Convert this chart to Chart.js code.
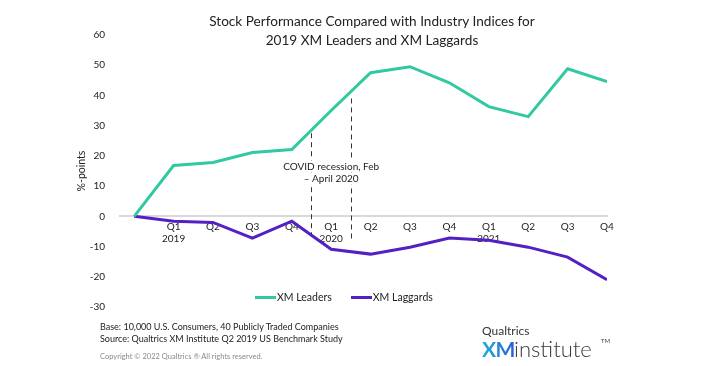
<!DOCTYPE html>
<html>
<head>
<meta charset="utf-8">
<script src="https://cdn.jsdelivr.net/npm/chart.js@4/dist/chart.umd.min.js"></script>
<style>
  html,body{margin:0;padding:0;background:#fff;}
  body{width:720px;height:366px;position:relative;overflow:hidden;font-family:Lato,"Open Sans",sans-serif;}
  #wrap{position:absolute;left:0;top:0;width:720px;height:366px;}
  .t{position:absolute;white-space:nowrap;color:#222;}
  #title{left:372px;top:12px;transform:translateX(-50%);text-align:center;font-size:13.6px;line-height:19px;color:#222;}
  #legend{position:absolute;top:291px;left:255px;font-size:10.5px;color:#222;display:flex;align-items:center;}
  #legend .item{display:flex;align-items:center;margin-right:19px;}
  #legend .sw{width:21px;height:3px;margin-right:1px;}
  #foot1{left:100px;top:321px;font-size:9px;line-height:12px;}
  #copy{left:100px;top:352px;font-size:7.5px;color:#8a8a8a;}
  #q{left:482px;top:323px;font-size:12px;color:#333;}
  #xm{left:482px;top:336px;font-size:21px;font-weight:700;letter-spacing:-0.5px;background:linear-gradient(90deg,#1fb0d8,#2a5bd7);-webkit-background-clip:text;background-clip:text;color:transparent;}
  #inst{left:514px;top:335px;font-size:22px;font-weight:300;color:#3a3a3a;}
  #tm{left:601px;top:337px;font-size:6px;color:#444;}
</style>
</head>
<body>
<div id="wrap"><canvas id="c" width="720" height="366"></canvas></div>
<div id="title" class="t">Stock Performance Compared with Industry Indices for<br>2019 XM Leaders and XM Laggards</div>
<div id="legend"></div>
<div id="foot1" class="t">Base: 10,000 U.S. Consumers, 40 Publicly Traded Companies<br>Source: Qualtrics XM Institute Q2 2019 US Benchmark Study</div>
<div id="copy" class="t">Copyright © 2022 Qualtrics ® All rights reserved.</div>
<div id="q" class="t">Qualtrics</div>
<div id="xm" class="t">XM</div>
<div id="inst" class="t">institute</div>
<div id="tm" class="t">TM</div>
<script>
// ---- data ----
const quarterLabels = ['', ['Q1','2019'], 'Q2', 'Q3', 'Q4', ['Q1','2020'], 'Q2', 'Q3', 'Q4', ['Q1','2021'], 'Q2', 'Q3', 'Q4'];
const seriesNames = ['XM Leaders', 'XM Laggards'];
const leaders  = [0, 16.8, 17.8, 21.1, 22.1, 35, 47.5, 49.5, 44.2, 36.3, 33, 48.8, 44.6];
const laggards = [0, -1.6, -2.0, -7.2, -1.6, -10.9, -12.5, -10.2, -7.2, -7.9, -10.2, -13.5, -21];
const yTicks = [60, 50, 40, 30, 20, 10, 0, -10, -20, -30];
const covidLineX = [4.5, 5.5];
const covidLineTop = [27.5, 39];
const covidLineBottom = [-6, -8];
const covidText = ['COVID recession, Feb', '\u2013 April 2020'];
const covidTextX = 5.0;
const covidTextY = [16.5, 12.5];

const colors = ['#30c9a1', '#5420c4'];

// legend (html)
const lg = document.getElementById('legend');
seriesNames.forEach((n,i)=>{
  const it=document.createElement('div');it.className='item';
  it.innerHTML='<span class="sw" style="background:'+colors[i]+'"></span><span>'+n+'</span>';
  lg.appendChild(it);
});

const covidPlugin = {
  id:'covid',
  afterDatasetsDraw(chart){
    const ctx=chart.ctx, xs=chart.scales.x, ys=chart.scales.y;
    ctx.save();
    ctx.strokeStyle='#333'; ctx.lineWidth=1; ctx.setLineDash([5,4]);
    covidLineX.forEach((xv,i)=>{
      const px=Math.round(xs.getPixelForValue(xv))+0.5;
      ctx.beginPath();
      ctx.moveTo(px, ys.getPixelForValue(covidLineTop[i]));
      ctx.lineTo(px, ys.getPixelForValue(covidLineBottom[i]));
      ctx.stroke();
    });
    ctx.setLineDash([]);
    ctx.font='10px Lato, "Open Sans", sans-serif';
    ctx.textAlign='center'; ctx.textBaseline='middle';
    covidText.forEach((t,i)=>{
      const px=xs.getPixelForValue(covidTextX), py=ys.getPixelForValue(covidTextY[i]);
      const w=ctx.measureText(t).width;
      ctx.fillStyle='#fff'; ctx.fillRect(px-w/2-1, py-6, w+2, 12);
      ctx.fillStyle='#222'; ctx.fillText(t, px, py);
    });
    ctx.restore();
  }
};

new Chart(document.getElementById('c'), {
  type:'line',
  data:{
    datasets:[
      {label:seriesNames[0], data:leaders.map((v,i)=>({x:i,y:v})), borderColor:colors[0], backgroundColor:colors[0], borderWidth:3, pointRadius:0, tension:0},
      {label:seriesNames[1], data:laggards.map((v,i)=>({x:i,y:v})), borderColor:colors[1], backgroundColor:colors[1], borderWidth:3, pointRadius:0, tension:0}
    ]
  },
  options:{
    responsive:false, animation:false, devicePixelRatio:1,
    layout:{padding:{left:75, right:113, top:35, bottom:59}},
    plugins:{legend:{display:false}, title:{display:false}, tooltip:{enabled:false}},
    scales:{
      x:{
        type:'linear', min:-0.36, max:12,
        position:{y:0},
        grid:{display:false, drawTicks:false},
        border:{display:true, color:'#d9d9d9', width:2},
        afterBuildTicks(s){ s.ticks = quarterLabels.map((l,i)=>({value:i})).filter(t=>t.value>0); },
        ticks:{
          autoSkip:false, maxRotation:0, padding:4,
          font:{family:'Lato, "Open Sans", sans-serif', size:10}, color:'#222',
          callback:(v)=>quarterLabels[v]
        }
      },
      y:{
        min:-30, max:60,
        afterBuildTicks(s){ s.ticks = yTicks.map(v=>({value:v})); },
        afterFit(s){ s.width = 45; },
        grid:{display:false, drawTicks:false},
        border:{display:false},
        ticks:{padding:15, font:{family:'Lato, "Open Sans", sans-serif', size:10}, color:'#222'},
        title:{display:true, text:'%-points', font:{family:'Lato, "Open Sans", sans-serif', size:10.5}, color:'#222', padding:{top:0,bottom:4}}
      }
    }
  },
  plugins:[covidPlugin]
});
</script>
</body>
</html>
